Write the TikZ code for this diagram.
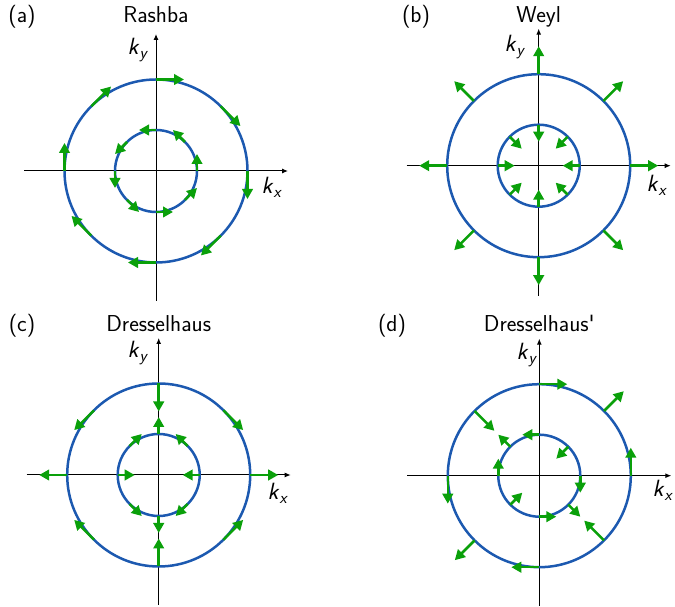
\documentclass[tikz,border=0pt]{standalone}
\usetikzlibrary{arrows.meta}
\definecolor{ringblue}{RGB}{28,89,176}
\definecolor{spingreen}{RGB}{10,160,10}
\newcommand\kvar[1]{\textit{k}\textsubscript{\textit{#1}}}
\tikzset{
  axisline/.style={line width=1pt, black, -{Latex[length=6pt,width=5pt]}},
  ring/.style={line width=2.5pt, ringblue},
  spin/.style={line width=2.5pt, spingreen, -{Triangle[length=10pt,width=10.5pt]}},
  ttl/.style={anchor=base, font=\fontsize{23}{28}\selectfont\sffamily, inner sep=0pt},
  klab/.style={font=\fontsize{23.5}{28}\selectfont\sffamily, inner sep=0pt},
}
% #1 name, #2 center
\newcommand\axesrings[2]{%
  \begin{scope}[shift={#2}]
    \coordinate (#1-w) at (-132,0);
    \coordinate (#1-e) at (132,0);
    \coordinate (#1-s) at (0,-130);
    \coordinate (#1-n) at (0,137);
    \draw[axisline] (#1-w) -- (#1-e);
    \draw[axisline] (#1-s) -- (#1-n);
    \draw[ring] (0,0) circle[radius=91.5];
    \draw[ring] (0,0) circle[radius=41];
  \end{scope}}
\begin{document}
\begin{tikzpicture}[x=1pt,y=1pt]
\useasboundingbox (0,0) rectangle (675,607);
% ---------------- (a) Rashba
\axesrings{a}{(156,436)}
\begin{scope}[shift={(156,436)}]
  \foreach \t in {0,45,...,315}{
    \draw[spin] (\t:91.5) -- ++({28*sin(\t)},{-28*cos(\t)});
    \draw[spin] (\t:41) -- ++({-17*sin(\t)},{17*cos(\t)});
  }
\end{scope}
\node[ttl] (ta) at (156,584) {Rashba};
\node[ttl] (la) at (22,584) {(a)};
\node[klab] (kya) at (138,557) {\kvar{y}};
\node[klab] (kxa) at (272,420) {\kvar{x}};
% ---------------- (b) Weyl
\axesrings{b}{(538.7,441.3)}
\begin{scope}[shift={(538.7,441.3)}]
  \foreach \t in {0,45,...,315}{
    \draw[spin] (\t:91.5) -- ++({28*cos(\t)},{28*sin(\t)});
    \draw[spin] (\t:41) -- ++({-17*cos(\t)},{-17*sin(\t)});
  }
\end{scope}
\node[ttl] (tb) at (538.7,584) {Weyl};
\node[ttl] (lb) at (416,584) {(b)};
\node[klab] (kyb) at (515,560) {\kvar{y}};
\node[klab] (kxb) at (657,422) {\kvar{x}};
% ---------------- (c) Dresselhaus
\axesrings{c}{(158.7,132)}
\begin{scope}[shift={(158.7,132)}]
  \foreach \t in {0,45,...,315}{
    \draw[spin] (\t:91.5) -- ++({28*cos(\t)},{-28*sin(\t)});
    \draw[spin] (\t:41) -- ++({-17*cos(\t)},{17*sin(\t)});
  }
\end{scope}
\node[ttl] (tc) at (158.7,275) {Dresselhaus};
\node[ttl] (lc) at (22,275) {(c)};
\node[klab] (kyc) at (138,254) {\kvar{y}};
\node[klab] (kxc) at (278,114) {\kvar{x}};
% ---------------- (d) Dresselhaus'
\axesrings{d}{(539.3,131.3)}
\begin{scope}[shift={(539.3,131.3)}]
  \foreach \t in {0,45,...,315}{
    \draw[spin] (\t:91.5) -- ++({28*sin(\t)},{28*cos(\t)});
    \draw[spin] (\t:41) -- ++({-17*sin(\t)},{-17*cos(\t)});
  }
\end{scope}
\node[ttl] (td) at (539.3,275) {Dresselhaus\textquotesingle};
\node[ttl] (ld) at (392,275) {(d)};
\node[klab] (kyd) at (527,252) {\kvar{y}};
\node[klab] (kxd) at (663,117) {\kvar{x}};
\end{tikzpicture}
\end{document}
